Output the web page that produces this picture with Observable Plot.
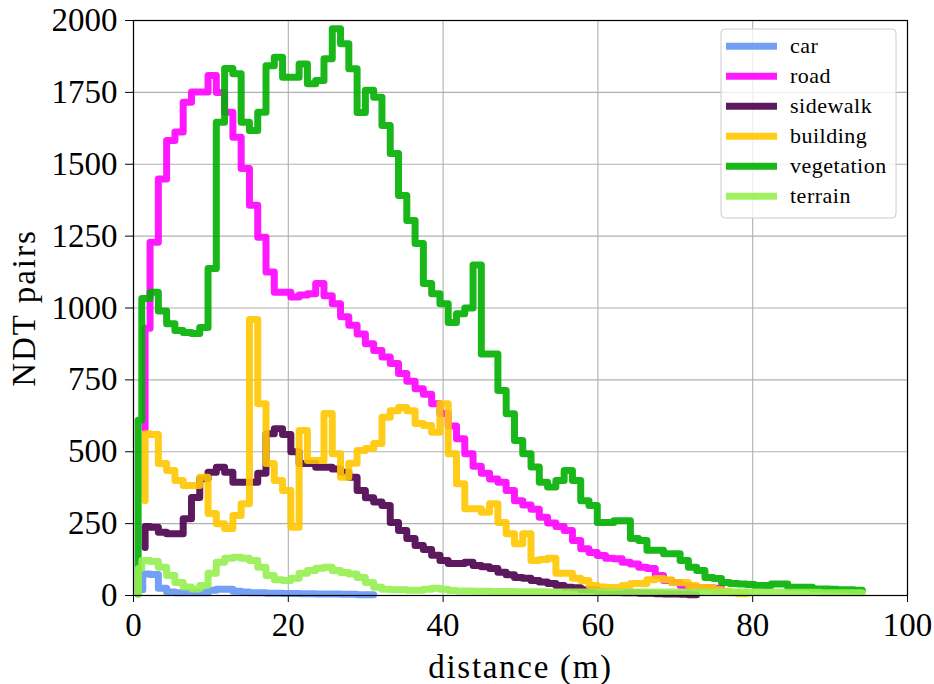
<!DOCTYPE html>
<html>
<head>
<meta charset="utf-8">
<script src="https://cdn.jsdelivr.net/npm/d3@7"></script>
<script src="https://cdn.jsdelivr.net/npm/@observablehq/plot@0.6"></script>
<style>
  body { margin: 0; background: #fff; }
  #chart { position: relative; width: 934px; height: 684px; }
  #chart svg { display: block; }
  #chart g[aria-label="x-axis label"] text { letter-spacing: 1.7px; }
  #chart g[aria-label="y-axis label"] text { letter-spacing: 2px; }
  #legend { position: absolute; left: 0; top: 0; pointer-events: none; }
  #legend text { font-family: "Liberation Serif", serif; font-size: 22px; letter-spacing: 0.5px; }
</style>
</head>
<body>
<div id="chart"></div>
<script>
// Histogram of NDT pairs by distance, one stepped line per semantic class.
const binWidth = 1.07; // metres per histogram bin

const classes = ["car", "road", "sidewalk", "building", "vegetation", "terrain"];
const classColors = ["#6496f5", "#ff00ff", "#4b004b", "#ffc800", "#00af00", "#96f050"];

// where each line starts (x in m, y of the first point) and its first bin index
const startX = [1.2, 1.5, 1.5, 1.5, 0.6, 0.65];
const startY = [20, 580, 167, 330, 5, 7];
const firstBin = [1, 1, 1, 1, 0, 0];

const car = [75, 73, 25, 12, 10, 10, 10, 10, 18, 22,
  22, 15, 12, 10, 10, 8, 8, 7, 7, 6,
  6, 5, 5, 5, 4, 4, 3, 3];

const road = [930, 1229, 1449, 1583, 1612, 1716, 1751, 1751, 1809, 1750,
  1681, 1594, 1485, 1357, 1246, 1125, 1055, 1055, 1038, 1045,
  1050, 1085, 1043, 1015, 970, 940, 910, 876, 852, 830,
  807, 772, 745, 719, 700, 667, 633, 590, 545, 493,
  450, 425, 405, 394, 365, 330, 315, 300, 272, 252,
  240, 226, 191, 163, 150, 139, 130, 128, 116, 110,
  98, 94, 70, 52, 45, 35, 30, 28, 28, 25];

const sidewalk = [240, 237, 220, 215, 215, 267, 341, 406, 429, 446,
  429, 394, 394, 394, 425, 563, 580, 560, 500, 459,
  459, 446, 446, 440, 429, 411, 365, 340, 325, 313,
  254, 226, 198, 174, 160, 140, 122, 111, 111, 116,
  104, 100, 94, 81, 72, 63, 60, 52, 47, 42,
  35, 29, 27, 20, 20, 15, 12, 12, 10, 10,
  8, 8, 6, 5, 5, 4, 3];

const building = [563, 560, 459, 435, 400, 383, 383, 411, 285, 250,
  233, 278, 319, 960, 667, 459, 400, 365, 237, 574,
  470, 470, 633, 493, 411, 460, 504, 511, 529, 620,
  643, 654, 643, 598, 591, 568, 667, 493, 389, 302,
  302, 290, 319, 254, 215, 180, 215, 122, 125, 130,
  77, 77, 60, 52, 35, 30, 28, 28, 35, 42,
  42, 55, 59, 55, 45, 45, 35, 28, 28, 20,
  15, 10, 6];

const vegetation = [610, 1033, 1055, 990, 945, 922, 915, 911, 932, 1137,
  1646, 1833, 1815, 1646, 1617, 1681, 1843, 1872, 1803, 1803,
  1849, 1780, 1791, 1867, 1971, 1919, 1832, 1680, 1757, 1733,
  1635, 1537, 1391, 1304, 1224, 1085, 1050, 1015, 950, 980,
  1000, 1150, 840, 840, 713, 632, 539, 493, 447, 394,
  377, 400, 435, 400, 330, 313, 254, 254, 260, 260,
  198, 191, 157, 157, 145, 145, 122, 98, 87, 63,
  59, 45, 42, 40, 38, 35, 35, 40, 40, 29,
  29, 29, 23, 23, 22, 20, 20, 18];

const terrain = [95, 122, 118, 98, 70, 45, 30, 23, 35, 77,
  116, 130, 133, 130, 122, 98, 70, 55, 52, 60,
  77, 87, 95, 98, 87, 80, 75, 63, 45, 29,
  22, 20, 20, 18, 18, 22, 25, 22, 17, 16,
  16, 15, 15, 14, 14, 14, 13, 13, 13, 13,
  12, 12, 12, 12, 12, 12, 12, 12, 12, 12,
  12, 12, 12, 12, 12, 12, 12, 12, 12, 12,
  12, 12, 12, 12, 12, 12, 11, 11, 11, 11,
  11, 11, 11, 10, 10, 10, 10, 10];

const xTicks = [0, 20, 40, 60, 80, 100];
const yTicks = [0, 250, 500, 750, 1000, 1250, 1500, 1750, 2000];

const counts = [car, road, sidewalk, building, vegetation, terrain];

// One point per bin at its right edge; "step-before" draws the rise at the left edge.
const rows = [];
classes.forEach((name, i) => {
  rows.push({cls: name, x: startX[i], y: startY[i]});
  counts[i].forEach((v, j) => {
    rows.push({cls: name, x: (firstBin[i] + j + 1) * binWidth, y: v});
  });
});

const chart = Plot.plot({
  width: 934,
  height: 684,
  marginLeft: 133,
  marginRight: 27,
  marginTop: 20,
  marginBottom: 89,
  style: {fontFamily: "'Liberation Serif', serif", fontSize: "33px", background: "white", color: "black", overflow: "visible"},
  x: {domain: [0, 100]},
  y: {domain: [0, 2000]},
  color: {domain: classes, range: classColors},
  marks: [
    Plot.gridX(xTicks, {stroke: "#b0b0b0", strokeOpacity: 1, strokeWidth: 1.1}),
    Plot.gridY(yTicks, {stroke: "#b0b0b0", strokeOpacity: 1, strokeWidth: 1.1}),
    Plot.line(rows, {
      x: "x", y: "y", z: "cls", stroke: "cls",
      curve: "step-before",
      strokeWidth: 7, strokeOpacity: 0.9,
      strokeLinejoin: "round", strokeLinecap: "round"
    }),
    Plot.frame({stroke: "black", strokeWidth: 1.2}),
    Plot.axisX(xTicks, {
      tickSize: 7, tickPadding: 10, tickFormat: d => String(d),
      label: "distance (m)", labelAnchor: "center", labelArrow: "none", labelOffset: 82
    }),
    Plot.axisY(yTicks, {
      tickSize: 8, tickPadding: 8, tickFormat: d => String(d),
      label: "NDT pairs", labelAnchor: "center", labelArrow: "none", labelOffset: 122
    })
  ]
});

const host = document.getElementById("chart");
host.appendChild(chart);

// Legend box in the upper right of the axes
const legend = d3.create("svg")
  .attr("id", "legend")
  .attr("width", 934)
  .attr("height", 684);

legend.append("rect")
  .attr("x", 721).attr("y", 29)
  .attr("width", 175).attr("height", 189)
  .attr("rx", 4).attr("ry", 4)
  .attr("fill", "white").attr("fill-opacity", 0.8)
  .attr("stroke", "#cccccc").attr("stroke-width", 1);

classes.forEach((name, i) => {
  const cy = 46.3 + 30 * i;
  legend.append("line")
    .attr("x1", 726).attr("x2", 777)
    .attr("y1", cy).attr("y2", cy)
    .attr("stroke", classColors[i]).attr("stroke-opacity", 0.9)
    .attr("stroke-width", 7);
  legend.append("text")
    .attr("x", 790).attr("y", cy + 7)
    .attr("fill", "black")
    .text(name);
});

host.appendChild(legend.node());
</script>
</body>
</html>
